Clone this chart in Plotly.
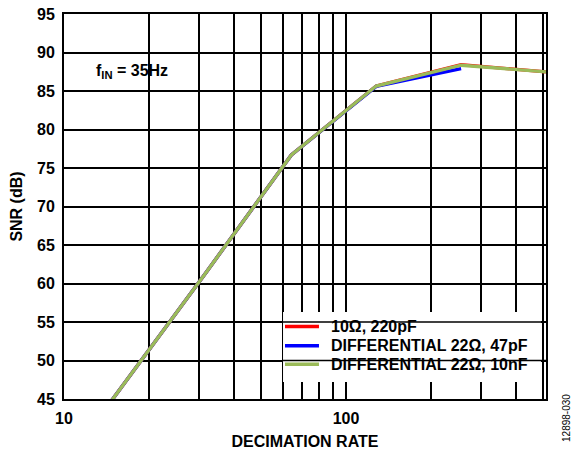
import plotly.graph_objects as go

# SNR vs decimation rate, fIN = 35 Hz
decimation = [8, 16, 32, 64, 128, 256, 512]
snr_10r_220p = [31.6, 46.6, 61.5, 76.7, 85.65, 88.42, 87.48]
snr_diff_22r_47p = [31.6, 46.6, 61.5, 76.7, 85.6, 87.9]
snr_diff_22r_10n = [31.6, 46.6, 61.5, 76.7, 85.65, 88.35, 87.48]

series_names = ["10Ω, 220pF", "DIFFERENTIAL 22Ω, 47pF", "DIFFERENTIAL 22Ω, 10nF"]
series_colors = ["#ff0000", "#0000ff", "#9bbb59"]
series_values = [snr_10r_220p, snr_diff_22r_47p, snr_diff_22r_10n]

x_major = [10, 100]
x_minor = [20, 30, 40, 50, 60, 70, 80, 90, 200, 300, 400, 500]
y_ticks = list(range(45, 96, 5))

FONT = "Arial, Liberation Sans, sans-serif"
FS = 16

fig = go.Figure()
for name, color, vals in zip(series_names, series_colors, series_values):
    fig.add_trace(go.Scatter(
        x=decimation[:len(vals)], y=vals, mode="lines", name=name,
        line=dict(color=color, width=3.4), showlegend=False,
    ))

# Hand-built legend box: white panel hides vertical grid, horizontal grid stays on top
box_x0, box_x1 = 0.4544, 0.9896
shapes = [
    dict(type="rect", xref="paper", yref="y", x0=box_x0, x1=box_x1, y0=47.2, y1=56.3,
         fillcolor="white", line=dict(width=0), layer="above"),
]
for yv in (50, 55):
    shapes.append(dict(type="line", xref="paper", yref="y", x0=box_x0, x1=1, y0=yv, y1=yv,
                       line=dict(color="black", width=1.5), layer="above"))
legend_rows = [54.4, 51.9, 49.5]
annotations = []
for name, color, yv in zip(series_names, series_colors, legend_rows):
    shapes.append(dict(type="line", xref="paper", yref="y", x0=0.4585, x1=0.529, y0=yv, y1=yv,
                       line=dict(color=color, width=3.5), layer="above"))
    annotations.append(dict(text=name, xref="paper", yref="y", x=0.55, y=yv,
                            xanchor="left", yanchor="middle", showarrow=False,
                            font=dict(family=FONT, size=FS, color="black", weight="bold")))

annotations.append(dict(text="f<sub>IN</sub> = 35Hz", xref="paper", yref="y",
                        x=0.0622, y=87.5, xanchor="left", yanchor="middle", showarrow=False,
                        font=dict(family=FONT, size=FS, color="black", weight="bold")))
annotations.append(dict(text="12898-030", xref="paper", yref="paper", x=1.043, y=-0.05,
                        xanchor="center", yanchor="middle", textangle=-90, showarrow=False,
                        font=dict(family=FONT, size=10, color="black")))

fig.update_layout(
    width=571, height=450,
    margin=dict(l=64, r=25, t=14, b=51, autoexpand=False),
    paper_bgcolor="white", plot_bgcolor="white",
    shapes=shapes, annotations=annotations,
    font=dict(family=FONT, size=FS, color="black"),
    xaxis=dict(
        type="log", range=[1, 2.70927], tickvals=x_major,
        showgrid=True, gridcolor="black", gridwidth=1.5,
        minor=dict(tickvals=x_minor, showgrid=True, gridcolor="black", gridwidth=1.5, ticks=""),
        showline=True, linecolor="black", linewidth=2, mirror=True,
        ticks="", ticklabelstandoff=4, tickfont=dict(family=FONT, size=FS, weight="bold"),
        title=dict(text="DECIMATION RATE", standoff=14,
                   font=dict(family=FONT, size=FS, weight="bold")),
        zeroline=False, automargin=False,
    ),
    yaxis=dict(
        range=[45, 95], tickvals=y_ticks,
        showgrid=True, gridcolor="black", gridwidth=1.5,
        showline=True, linecolor="black", linewidth=2, mirror=True,
        ticks="", ticklabelstandoff=4, tickfont=dict(family=FONT, size=FS, weight="bold"),
        title=dict(text="SNR (dB)", standoff=10,
                   font=dict(family=FONT, size=FS, weight="bold")),
        zeroline=False, automargin=False,
    ),
)

fig.write_html("out.html")
